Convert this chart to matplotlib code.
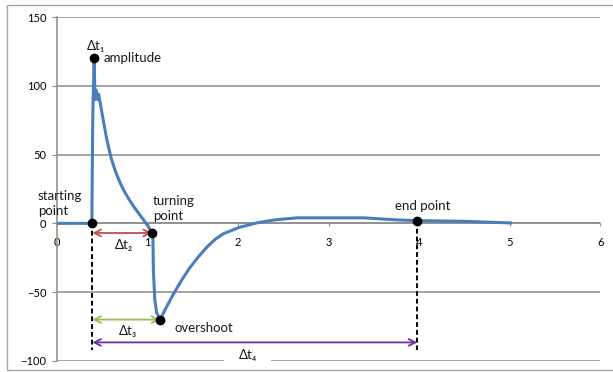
import matplotlib.pyplot as plt
from matplotlib.patches import Rectangle

plt.rcParams['font.family'] = ['Lato', 'DejaVu Sans']

# signal
t = [0, 0.2, 0.385, 0.39, 0.395, 0.41, 0.42, 0.43, 0.45, 0.46, 0.50, 0.55, 0.60,
     0.65, 0.70, 0.75, 0.80, 0.85, 0.90, 0.95, 1.00, 1.05, 1.06, 1.065, 1.08, 1.10,
     1.14, 1.20, 1.29, 1.38, 1.47, 1.56, 1.66, 1.75, 1.84, 2.02, 2.21, 2.40, 2.65,
     3.00, 3.39, 3.76, 3.98, 4.49, 5.01]
signal = [0, 0, 0, 40, 78, 120, 90, 97, 90, 94, 79, 61, 47,
          37, 29, 22.5, 17, 12, 7.5, 3, -1.5, -7, -12, -35, -55, -65,
          -70, -62, -51, -41, -32, -24.5, -17, -11.5, -7.5, -2.8, 0.4, 2.5, 4,
          4, 4, 2.5, 2, 1.5, 0.3]

# marked points: start, amplitude, turning point, overshoot, end point
start = (0.39, 0)
peak = (0.41, 120)
turn = (1.05, -7)
overshoot = (1.14, -70)
end = (3.98, 2)

yticks = [-100, -50, 0, 50, 100, 150]
xticks = [0, 1, 2, 3, 4, 5, 6]

fig = plt.figure(figsize=(6.13, 3.72), dpi=100)
ax = fig.add_axes([0.093, 0.030, 0.886, 0.924])

# outer chart frame
fig.patches.append(Rectangle((0.0114, 0.005), 1.2, 0.982, transform=fig.transFigure,
                             fill=False, edgecolor='#a6a6a6', linewidth=1.0))

grid_col = '#8c8c8c'
ax.set_xlim(0, 6)
ax.set_ylim(-100, 150)
ax.set_yticks(yticks)
ax.set_xticks(xticks)
ax.grid(axis='y', color=grid_col, linewidth=1.1, zorder=0)
ax.set_axisbelow(True)

for s in ['top', 'right']:
    ax.spines[s].set_visible(False)
ax.spines['bottom'].set_position(('data', 0))
ax.spines['bottom'].set_color(grid_col)
ax.spines['bottom'].set_linewidth(1.1)
ax.spines['left'].set_color(grid_col)
ax.spines['left'].set_linewidth(1.1)
ax.tick_params(axis='y', direction='out', length=3.5, color=grid_col, labelsize=8, pad=4)
ax.tick_params(axis='x', direction='out', length=2.5, color=grid_col, labelsize=8, pad=7)

ax.plot(t, signal, color='#4a7ebb', linewidth=2.2, zorder=3)

# dashed guide lines
ax.plot([start[0], start[0]], [start[1], -92], 'k--', linewidth=1.4, dashes=(2.5, 1.5), zorder=4)
ax.plot([end[0], end[0]], [end[1], -92], 'k--', linewidth=1.4, dashes=(2.5, 1.5), zorder=4)

# time interval arrows
def span(x0, x1, y, col):
    ax.annotate('', xy=(x1, y), xytext=(x0, y),
                arrowprops=dict(arrowstyle='<->', color=col, lw=1.3,
                                shrinkA=0, shrinkB=0, mutation_scale=12), zorder=4)

span(start[0], turn[0], turn[1], '#c0504d')
span(start[0], overshoot[0], overshoot[1], '#9bbb59')
span(start[0], end[0], -86.6, '#7030a0')

pts = [start, peak, turn, overshoot, end]
ax.plot([p[0] for p in pts], [p[1] for p in pts], 'o', color='black',
        markersize=6, zorder=5)

fs = 9.5
tc = '#1a1a1a'
ax.text(0.43, 129, 'Δt₁', fontsize=fs, color=tc, ha='center', va='center')
ax.text(0.52, 120, 'amplitude', fontsize=fs, color=tc, ha='left', va='center')
ax.text(-0.21, 14.5, 'starting\npoint', fontsize=fs, color=tc, ha='left', va='center',
        linespacing=1.3, clip_on=False)
ax.text(1.06, 11, 'turning\npoint', fontsize=fs, color=tc, ha='left', va='center',
        linespacing=1.3)
ax.text(3.73, 12.5, 'end point', fontsize=fs, color=tc, ha='left', va='center')
ax.text(1.30, -76, 'overshoot', fontsize=fs, color=tc, ha='left', va='center')
ax.text(0.64, -16, 'Δt₂', fontsize=fs, color=tc, ha='left', va='center')
ax.text(0.68, -78, 'Δt₃', fontsize=fs, color=tc, ha='left', va='center')
# white gap in the -100 gridline behind the label
ax.add_patch(Rectangle((1.85, -103), 0.51, 6, facecolor='white', edgecolor='none',
                       zorder=2, clip_on=False))
ax.text(2.11, -95.5, 'Δt₄', fontsize=fs, color=tc, ha='center', va='center', zorder=6)

fig.savefig('out.png', dpi=100)
